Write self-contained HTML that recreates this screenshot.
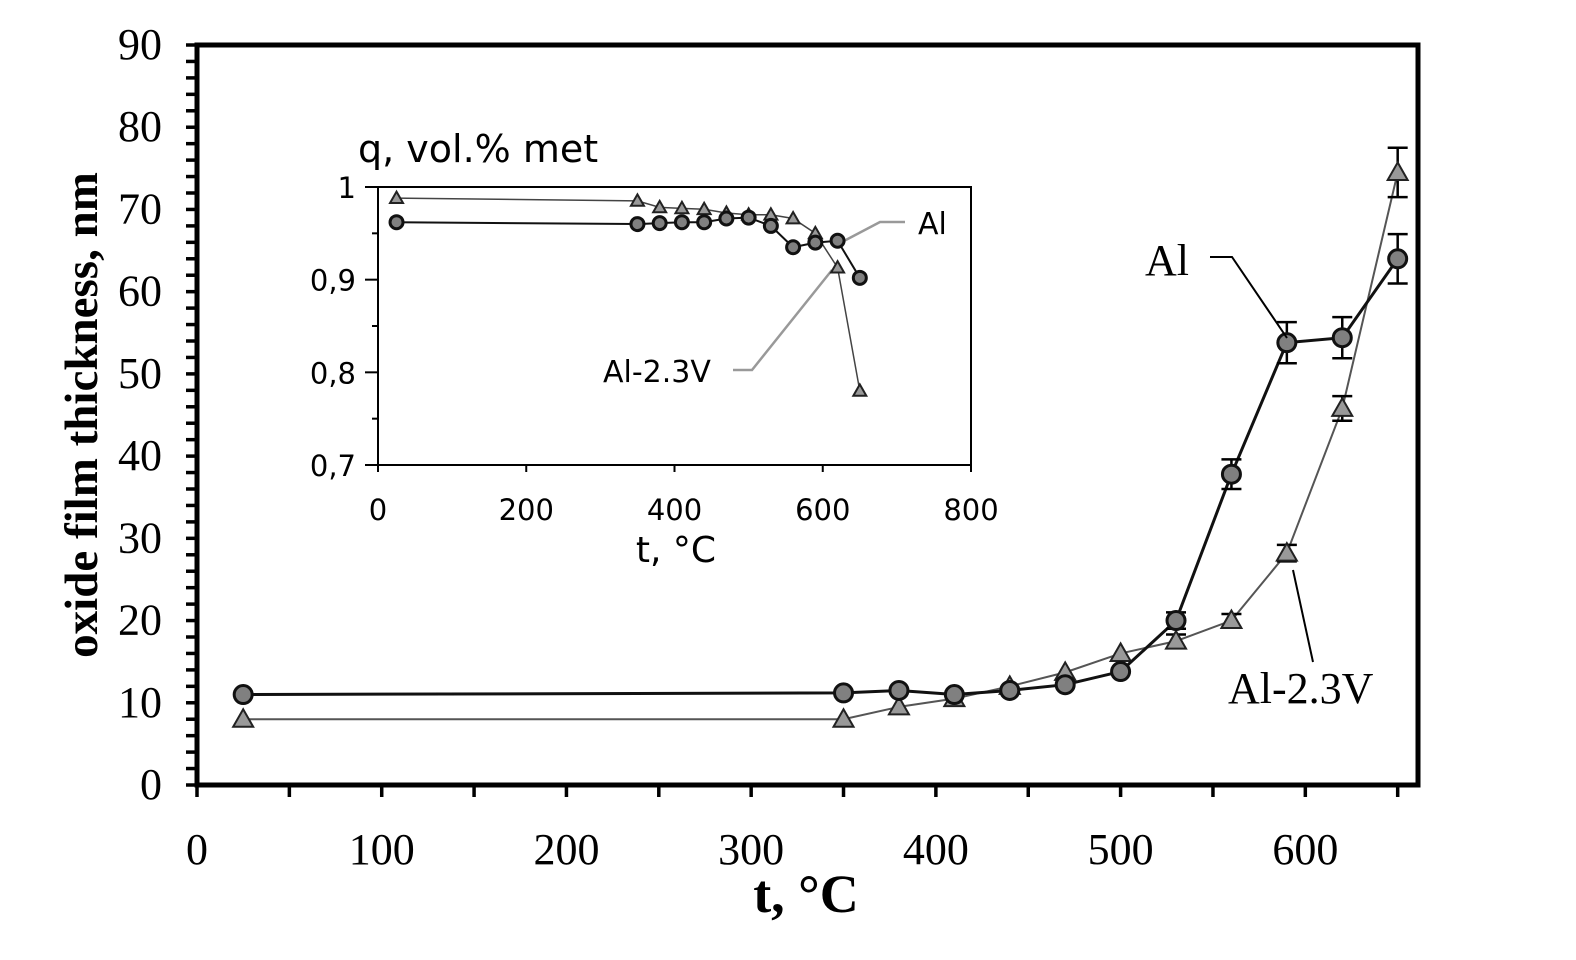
<!DOCTYPE html>
<html><head><meta charset="utf-8"><style>
body{margin:0;background:#fff}
svg{display:block}
</style></head><body>
<svg id="chart" width="1576" height="960" xmlns="http://www.w3.org/2000/svg"></svg>
<script>
const temps = [25,350,380,410,440,470,500,530,560,590,620,650];
const alThick = [11,11.2,11.5,11,11.5,12.2,13.8,20,37.8,53.8,54.4,64];
const alErr = [0.3,0.3,0.3,0.3,0.3,0.4,0.5,1,1.8,2.5,2.5,3];
const avThick = [8,8,9.5,10.5,12,13.7,16,17.5,20,28.2,45.8,74.5];
const avErr = [0.3,0.3,0.4,0.4,0.4,0.5,0.6,0.8,0.8,1,1.5,3];
const alFrac = [0.962,0.960,0.961,0.962,0.962,0.966,0.967,0.958,0.935,0.940,0.942,0.902];
const avFrac = [0.988,0.985,0.978,0.977,0.976,0.972,0.970,0.970,0.966,0.950,0.913,0.780];
const xTicks = [0,100,200,300,400,500,600];
const yTicks = [0,10,20,30,40,50,60,70,80,90];
const ixTicks = [0,200,400,600,800];
const iyTicks = [0.7,0.8,0.9,1];
const iyLabels = ['0,7','0,8','0,9','1'];

const svg = document.getElementById('chart');
const NS='http://www.w3.org/2000/svg';
function mk(tag, attrs, parent){const e=document.createElementNS(NS,tag);for(const k in attrs)e.setAttribute(k,attrs[k]);(parent||svg).appendChild(e);return e;}
const X = v => 197 + v*(1418-197)/661;
const Y = v => 785 - v*(785-45)/90;
const IX = v => 378 + v*(971-378)/800;
const IY = v => 465 - (v-0.7)*(465-187)/0.3;
const serif='"Liberation Serif", serif', sans='"DejaVu Sans","Liberation Sans", sans-serif';

let f=mk('rect',{x:197,y:45,width:1221,height:740,fill:'none',stroke:'#000','stroke-width':5});


for(let v=0;v<=90;v+=2){const t=mk('line',{x1:186,x2:197,y1:Y(v),y2:Y(v),stroke:'#000','stroke-width':3.5});

}
for(let v=0;v<=650;v+=50){const t=mk('line',{x1:X(v),x2:X(v),y1:785,y2:797,stroke:'#000','stroke-width':3.5});

}
yTicks.forEach(v=>{const t=mk('text',{x:162,y:Y(v)+14,'text-anchor':'end','font-family':serif,'font-size':44});t.textContent=v;

});
xTicks.forEach(v=>{const t=mk('text',{x:X(v),y:864,'text-anchor':'middle','font-family':serif,'font-size':44});t.textContent=v;

});
let xt=mk('text',{x:806,y:912,'text-anchor':'middle','font-family':serif,'font-size':54,'font-weight':'bold'});xt.textContent='t, °C';


let yt=mk('text',{x:0,y:0,transform:'translate(97,415) rotate(-90)','text-anchor':'middle','font-family':serif,'font-size':47,'font-weight':'bold'});yt.textContent='oxide film thickness, nm';



function series(xs,ys,errs,xf,yf,color,marker,r,name,sw){
  const g=mk('g',{});
  
  
  mk('polyline',{points:xs.map((x,i)=>xf(x)+','+yf(ys[i])).join(' '),fill:'none',stroke:color,'stroke-width':sw},g);
  xs.forEach((x,i)=>{
    const cx=xf(x),cy=yf(ys[i]);
    if(errs&&errs[i]>0.6){const e=errs[i];
      mk('line',{x1:cx,x2:cx,y1:yf(ys[i]-e),y2:yf(ys[i]+e),stroke:'#000','stroke-width':2.5},g);
      [ys[i]-e,ys[i]+e].forEach(v=>mk('line',{x1:cx-10,x2:cx+10,y1:yf(v),y2:yf(v),stroke:'#000','stroke-width':2.5},g));}
    let m;
    if(marker==='c') m=mk('circle',{cx:cx,cy:cy,r:r,fill:'#808080',stroke:'#111','stroke-width':3},g);
    else m=mk('polygon',{points:`${cx},${cy-r} ${cx-r},${cy+r*0.75} ${cx+r},${cy+r*0.75}`,fill:'#999',stroke:'#222','stroke-width':2},g);
    
    
  });
}
series(temps,avThick,avErr,X,Y,'#555','t',10,'series-al-2.3v',2);
series(temps,alThick,alErr,X,Y,'#111','c',9,'series-al',3);

let l1=mk('text',{x:1145,y:275,'font-family':serif,'font-size':44});l1.textContent='Al';


mk('polyline',{points:'1210,257 1232,257 1287,338',fill:'none',stroke:'#000','stroke-width':2});
let l2=mk('text',{x:1228,y:703,'font-family':serif,'font-size':44});l2.textContent='Al-2.3V';


mk('line',{x1:1313,y1:662,x2:1293,y2:570,stroke:'#000','stroke-width':2});

const ig=mk('g',{});


mk('rect',{x:378,y:187,width:593,height:278,fill:'#fff',stroke:'#000','stroke-width':2},ig);
for(let k=0;k<=6;k++){const v=0.7+k*0.05;mk('line',{x1:378-(k%2===0?13:6),x2:378,y1:IY(v),y2:IY(v),stroke:'#000','stroke-width':2},ig);}
ixTicks.forEach(v=>{mk('line',{x1:IX(v),x2:IX(v),y1:465,y2:472,stroke:'#000','stroke-width':2},ig);
 const t=mk('text',{x:IX(v),y:520,'text-anchor':'middle','font-family':sans,'font-size':29},ig);t.textContent=v;
 
 });
iyTicks.forEach((v,i)=>{const t=mk('text',{x:356,y:IY(v)+11,'text-anchor':'end','font-family':sans,'font-size':29},ig);t.textContent=iyLabels[i];
 
 });
let it=mk('text',{x:358,y:162,'font-family':sans,'font-size':38},ig);it.textContent='q, vol.% met';


let ixt=mk('text',{x:676,y:562,'text-anchor':'middle','font-family':sans,'font-size':36},ig);ixt.textContent='t, °C';


series(temps,avFrac,null,IX,IY,'#444','t',6.5,'inset-series-al-2.3v',1.5);
series(temps,alFrac,null,IX,IY,'#111','c',6.5,'inset-series-al',2);
mk('polyline',{points:'842,242 880,222 905,222',fill:'none',stroke:'#999','stroke-width':2.5},ig);
let a1=mk('text',{x:918,y:234,'font-family':sans,'font-size':30},ig);a1.textContent='Al';


mk('polyline',{points:'733,370 752,370 832,270',fill:'none',stroke:'#999','stroke-width':2.5},ig);
let a2=mk('text',{x:603,y:382,'font-family':sans,'font-size':30},ig);a2.textContent='Al-2.3V';


</script>
</body></html>
